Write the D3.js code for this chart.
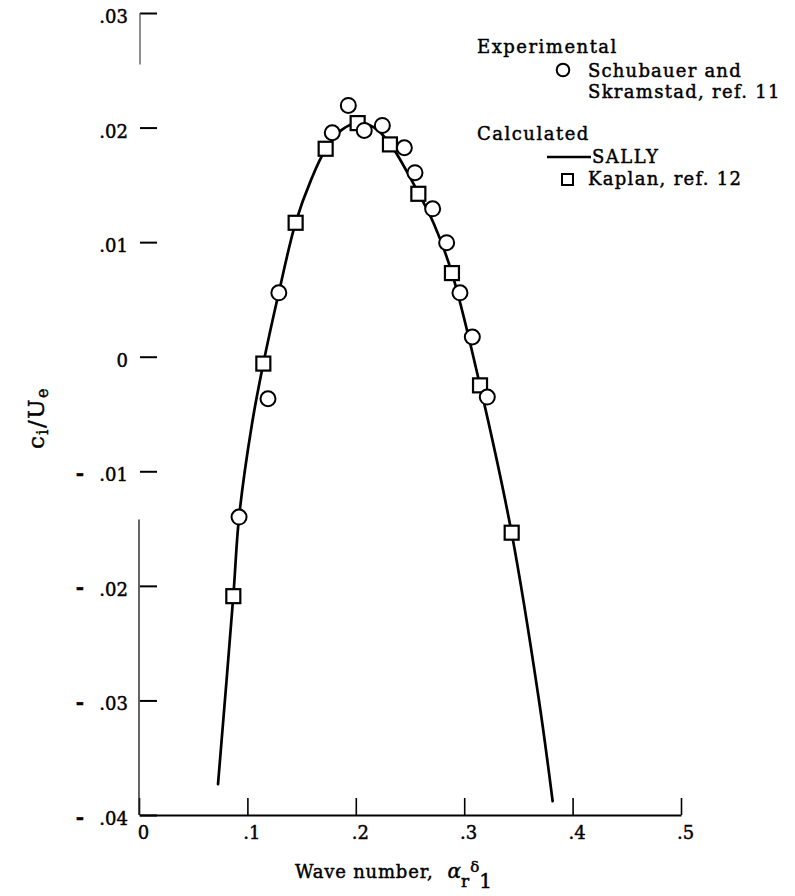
<!DOCTYPE html>
<html>
<head>
<meta charset="utf-8">
<script src="https://cdn.jsdelivr.net/npm/d3@7/dist/d3.min.js"></script>
<style>
  html, body { margin: 0; padding: 0; background: #fff; }
  svg { display: block; font-family: "DejaVu Serif", serif; }
  svg text { stroke: #000; stroke-width: 0.45px; }
</style>
</head>
<body>
<svg id="chart" width="795" height="896"></svg>
<script>
// ---------- data ----------
const xTicks = [0, 0.1, 0.2, 0.3, 0.4, 0.5];
const xTickLabels = ["0", ".1", ".2", ".3", ".4", ".5"];
const yTicks = [0.03, 0.02, 0.01, 0, -0.01, -0.02, -0.03, -0.04];
const yTickLabels = [".03", ".02", ".01", "0", ".01", ".02", ".03", ".04"];

// Experimental, Schubauer and Skramstad (circles)
const expX = [0.0923, 0.119, 0.129, 0.1783, 0.1931, 0.2078, 0.2245, 0.2448, 0.2546, 0.2709, 0.2838, 0.2961, 0.3075, 0.3213];
const expY = [-0.0140, -0.00367, 0.00558, 0.01955, 0.02193, 0.01975, 0.02019, 0.01824, 0.01606, 0.01291, 0.00995, 0.00558, 0.00172, -0.00352];

// Calculated, Kaplan (squares)
const kapX = [0.087, 0.1147, 0.1445, 0.1722, 0.2017, 0.2315, 0.2577, 0.2887, 0.3146, 0.3438];
const kapY = [-0.0209, -0.0006, 0.01169, 0.01815, 0.02039, 0.01853, 0.01422, 0.0073, -0.0025, -0.01536];

// Calculated, SALLY (line)
const sallyX = [0.0729, 0.087, 0.0923, 0.104, 0.1147, 0.129, 0.1445, 0.159, 0.1722, 0.187, 0.2017, 0.217, 0.2315, 0.2577, 0.272, 0.2887, 0.3146, 0.3438, 0.369, 0.3816];
const sallyY = [-0.0373, -0.0209, -0.0140, -0.0060, -0.0006, 0.0056, 0.0117, 0.0155, 0.0181, 0.0198, 0.0204, 0.0200, 0.0186, 0.0143, 0.0116, 0.0073, -0.0025, -0.0154, -0.0300, -0.0388];

const legendHeads = ["Experimental", "Calculated"];
const legendExp = ["Schubauer and", "Skramstad, ref. 11"];
const legendSally = "SALLY";
const legendKaplan = "Kaplan, ref. 12";

// ---------- chart ----------
const svg = d3.select("#chart");
const x = d3.scaleLinear().domain([0, 0.5]).range([139, 681]);
const y = d3.scaleLinear().domain([-0.04, 0.03]).range([815, 13]);

// X axis
const xAxis = d3.axisBottom(x)
  .tickValues(xTicks)
  .tickFormat((d, i) => xTickLabels[i])
  .tickSize(-17)
  .tickSizeOuter(0)
  .tickPadding(11);
const gx = svg.append("g").attr("transform", `translate(0,${y(-0.04)})`).call(xAxis);
gx.select(".domain").attr("stroke", "#000").attr("stroke-width", 2);
gx.selectAll(".tick line").attr("stroke", "#000").attr("stroke-width", 1.6);
gx.selectAll(".tick text").attr("fill", "#000").attr("font-size", 18)
  .attr("font-family", "DejaVu Serif").attr("dx", 4);

// Y axis
const yAxis = d3.axisLeft(y)
  .tickValues(yTicks)
  .tickFormat((d, i) => yTickLabels[i])
  .tickSize(-17)
  .tickSizeOuter(0)
  .tickPadding(12);
const gy = svg.append("g").attr("transform", `translate(${x(0) + 1},0)`).call(yAxis);
gy.select(".domain").remove();
gy.selectAll(".tick line").attr("stroke", "#000").attr("stroke-width", 2);
gy.selectAll(".tick text").attr("fill", "#000").attr("font-size", 18)
  .attr("font-family", "DejaVu Serif").attr("dy", "0.53em");
// minus signs for negative labels
gy.selectAll(".tick").filter(d => d < 0).append("text")
  .attr("x", -60).attr("dy", "0.4em")
  .attr("text-anchor", "middle")
  .attr("font-size", 20).attr("font-weight", "bold").attr("fill", "#000")
  .attr("font-family", "DejaVu Serif")
  .text("-");

// Y axis line (partially faded in the original scan)
svg.append("line")
  .attr("x1", x(0) + 1).attr("x2", x(0) + 1)
  .attr("y1", y(0.03)).attr("y2", y(0.0255))
  .attr("stroke", "#444").attr("stroke-width", 1.2);
svg.append("line")
  .attr("x1", x(0)).attr("x2", x(0))
  .attr("y1", y(-0.0142)).attr("y2", y(-0.04))
  .attr("stroke", "#222").attr("stroke-width", 1.4);

// SALLY curve
const sally = sallyX.map((v, i) => [v, sallyY[i]]);
svg.append("path")
  .datum(sally)
  .attr("fill", "none")
  .attr("stroke", "#000")
  .attr("stroke-width", 2.7)
  .attr("stroke-linecap", "round")
  .attr("d", d3.line().x(d => x(d[0])).y(d => y(d[1])).curve(d3.curveCatmullRom.alpha(0.5)));

// Kaplan squares
const sq = 14;
svg.append("g").selectAll("rect")
  .data(kapX.map((v, i) => [v, kapY[i]]))
  .join("rect")
  .attr("x", d => x(d[0]) - sq / 2)
  .attr("y", d => y(d[1]) - sq / 2)
  .attr("width", sq).attr("height", sq)
  .attr("fill", "#fff").attr("stroke", "#000").attr("stroke-width", 2.2);

// Experimental circles
svg.append("g").selectAll("circle")
  .data(expX.map((v, i) => [v, expY[i]]))
  .join("circle")
  .attr("cx", d => x(d[0]))
  .attr("cy", d => y(d[1]))
  .attr("r", 7.5)
  .attr("fill", "#fff").attr("stroke", "#000").attr("stroke-width", 2);

// Legend
const lg = svg.append("g").attr("font-size", 18).attr("fill", "#000");
lg.append("text").attr("x", 477).attr("y", 53).attr("letter-spacing", 1.5).text(legendHeads[0]);
lg.append("circle").attr("cx", 563).attr("cy", 70).attr("r", 6.3)
  .attr("fill", "#fff").attr("stroke", "#000").attr("stroke-width", 2);
lg.append("text").attr("x", 588).attr("y", 77).attr("letter-spacing", 1.2).text(legendExp[0]);
lg.append("text").attr("x", 588).attr("y", 98).attr("letter-spacing", 1.3).text(legendExp[1]);
lg.append("text").attr("x", 477).attr("y", 140).attr("letter-spacing", 1.5).text(legendHeads[1]);
lg.append("line").attr("x1", 547).attr("x2", 591).attr("y1", 157).attr("y2", 157)
  .attr("stroke", "#000").attr("stroke-width", 2.4);
lg.append("text").attr("x", 592).attr("y", 163).attr("letter-spacing", 1.5).text(legendSally);
lg.append("rect").attr("x", 562).attr("y", 174).attr("width", 11).attr("height", 11)
  .attr("fill", "#fff").attr("stroke", "#000").attr("stroke-width", 2);
lg.append("text").attr("x", 588).attr("y", 185).attr("letter-spacing", 1.3).text(legendKaplan);

// X axis title
const xt = svg.append("text").attr("x", 295).attr("y", 878).attr("font-size", 18).attr("fill", "#000");
xt.append("tspan").attr("letter-spacing", 0.8).text("Wave number,");
xt.append("tspan").attr("dx", 14).attr("font-style", "italic").attr("font-size", 20).text("α");
xt.append("tspan").attr("dy", 9).attr("font-size", 17).text("r");
xt.append("tspan").attr("dy", -15).attr("dx", 1).attr("font-size", 15).text("δ");
xt.append("tspan").attr("dy", 16).attr("font-size", 20).text("1");

// Y axis title
const yt = svg.append("text")
  .attr("transform", "translate(44,418) rotate(-90)")
  .attr("text-anchor", "middle")
  .attr("font-size", 23).attr("fill", "#000").attr("letter-spacing", 1.5);
yt.append("tspan").text("c");
yt.append("tspan").attr("dy", 4).attr("font-size", 16).text("i");
yt.append("tspan").attr("dy", -4).text("/U");
yt.append("tspan").attr("dy", 4).attr("font-size", 16).text("e");
</script>
</body>
</html>
